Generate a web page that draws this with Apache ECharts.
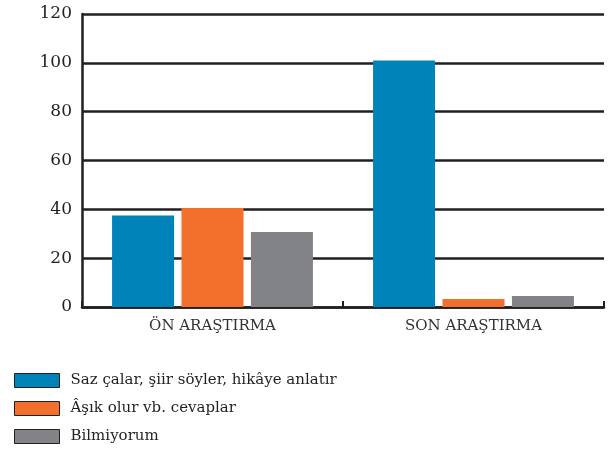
<!DOCTYPE html>
<html>
<head>
<meta charset="utf-8">
<script src="https://cdn.jsdelivr.net/npm/echarts@6/dist/echarts.min.js"></script>
<style>
  html, body { margin: 0; padding: 0; background: #fff; }
  #chart { width: 612px; height: 457px; }
</style>
</head>
<body>
<div id="chart"></div>
<script>
// veriler
const categories = ['ÖN ARAŞTIRMA', 'SON ARAŞTIRMA'];
const sazValues = [37.5, 101];
const asikValues = [40.5, 3.3];
const bilmiyorumValues = [30.7, 4.5];
const seriesNames = ['Saz çalar, şiir söyler, hikâye anlatır', 'Âşık olur vb. cevaplar', 'Bilmiyorum'];
const colors = ['#0083b9', '#f36f2c', '#828386'];

const chart = echarts.init(document.getElementById('chart'));
const serif = '"DejaVu Serif", "Liberation Serif", serif';
const ink = '#231f20';

const option = {
  animation: false,
  color: colors,
  grid: { left: 82, right: 8, top: 14, bottom: 150 },
  legend: {
    orient: 'vertical',
    left: 14,
    top: 373,
    padding: 0,
    itemWidth: 45,
    itemHeight: 14,
    itemGap: 13,
    icon: 'rect',
    itemStyle: { borderColor: ink, borderWidth: 1 },
    textStyle: { fontFamily: serif, fontSize: 15, color: ink, padding: [0, 0, 0, 6] },
    data: seriesNames
  },
  xAxis: {
    type: 'category',
    data: categories,
    axisLine: { lineStyle: { color: ink, width: 2.5 } },
    axisTick: { show: true, inside: true, length: 6, lineStyle: { color: ink, width: 2 } },
    axisLabel: { fontFamily: serif, fontSize: 15, color: '#333', margin: 12 }
  },
  yAxis: {
    type: 'value',
    min: 0,
    max: 120,
    interval: 20,
    axisLine: { show: true, lineStyle: { color: ink, width: 2.5 } },
    axisTick: { show: false },
    axisLabel: { fontFamily: serif, fontSize: 17, color: ink, margin: 10 },
    splitLine: { lineStyle: { color: ink, width: 2.5 } }
  },
  series: [
    { name: seriesNames[0], type: 'bar', data: sazValues, barWidth: 62, barGap: '12%' },
    { name: seriesNames[1], type: 'bar', data: asikValues, barWidth: 62, barGap: '12%' },
    { name: seriesNames[2], type: 'bar', data: bilmiyorumValues, barWidth: 62, barGap: '12%' }
  ]
};

chart.setOption(option);
</script>
</body>
</html>
